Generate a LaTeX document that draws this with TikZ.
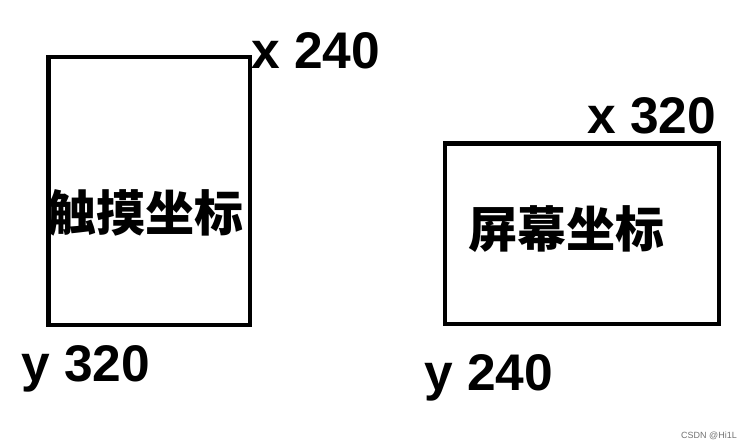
\documentclass[tikz,border=0pt]{standalone}
\usepackage{fontspec}
\setmainfont{Liberation Sans}
\newfontfamily\cjk{Noto Sans CJK SC}
\usetikzlibrary{positioning}

\begin{document}
\begin{tikzpicture}[
    x=1pt, y=-1pt,
    box/.style={draw=black, line width=4.5pt, inner sep=0pt},
    axis/.style={anchor=base west, inner sep=0pt, font=\fontsize{51.5}{51.5}\selectfont\bfseries},
    title/.style={anchor=center, inner sep=0pt, font=\fontsize{49}{49}\selectfont\cjk\bfseries},
    wmark/.style={anchor=base east, inner sep=0pt, text=black!55, font=\fontsize{9}{9}\selectfont}
]
\useasboundingbox[fill=white] (0,0) rectangle (752,447);

% 触摸坐标
\node[box, minimum width=201.5pt, minimum height=268pt] (touchbox) at (149.25,191) {};
\node[title] (touch) at (145,213) {触摸坐标};
\node[axis] (touchx) at (251,68) {x 240};
\node[axis] (touchy) at (21,381) {y 320};

% 屏幕坐标
\node[box, minimum width=274pt, minimum height=180.5pt] (screenbox) at (582,233.75) {};
\node[title] (screen) at (566,229) {屏幕坐标};
\node[axis] (screenx) at (587,133) {x 320};
\node[axis] (screeny) at (424,390) {y 240};

% 水印
\node[wmark] (wm) at (737,438) {CSDN @Hi1L};

\end{tikzpicture}
\end{document}
